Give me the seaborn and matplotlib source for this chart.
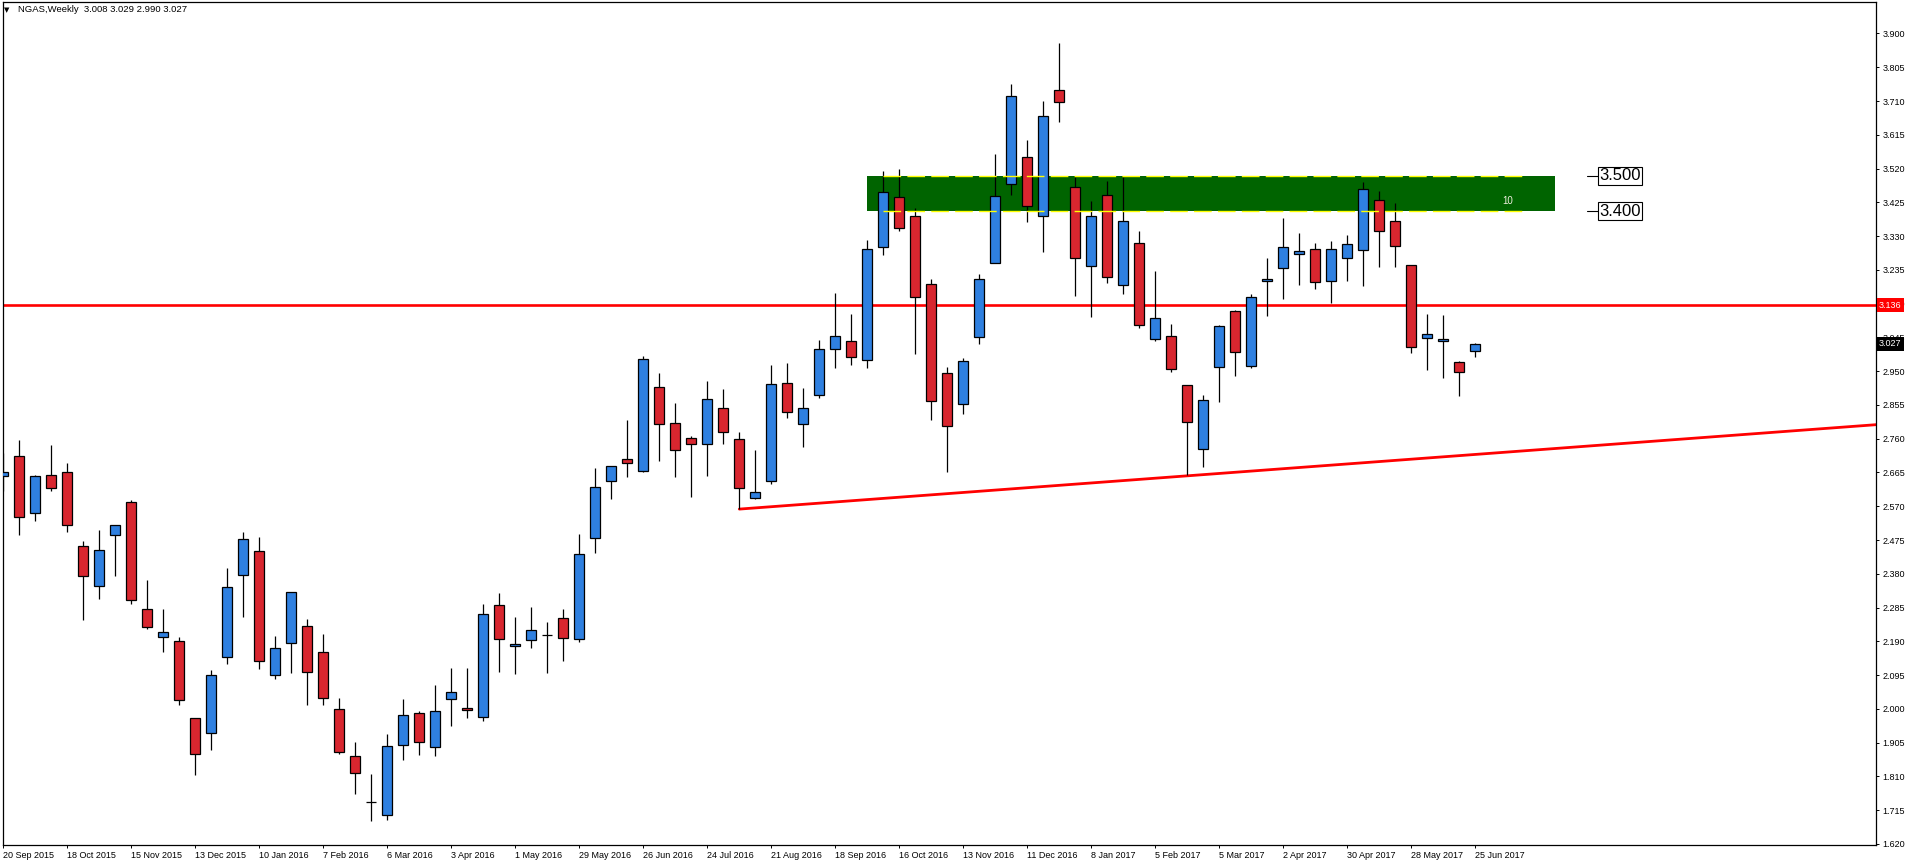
import matplotlib
matplotlib.use("Agg")
import matplotlib.pyplot as plt
import matplotlib.patches as patches
import matplotlib.transforms as mtransforms
import seaborn as sns
import pandas as pd

# weekly NGAS candles, 20 Sep 2015 .. 25 Jun 2017
opens = [2.656, 2.712, 2.550, 2.659, 2.665, 2.457, 2.345, 2.488, 2.583, 2.280,
         2.201, 2.190, 1.974, 1.932, 2.145, 2.376, 2.443, 2.095, 2.185, 2.232,
         2.159, 1.999, 1.867, 1.739, 1.702, 1.898, 1.988, 1.893, 2.027, 2.002,
         1.977, 2.291, 2.176, 2.193, 2.207, 2.255, 2.196, 2.480, 2.641, 2.704,
         2.670, 2.906, 2.805, 2.763, 2.746, 2.845, 2.760, 2.592, 2.640, 2.918,
         2.802, 2.884, 3.013, 3.036, 2.982, 3.300, 3.440, 3.387, 3.196, 2.946,
         2.859, 3.047, 3.255, 3.476, 3.552, 3.387, 3.740, 3.468, 3.246, 3.446,
         3.193, 3.311, 3.041, 3.050, 2.912, 2.732, 2.963, 3.120, 2.965, 3.204,
         3.241, 3.280, 3.294, 3.204, 3.269, 3.291, 3.432, 3.373, 3.249, 3.044,
         3.036, 2.977, 3.008]
highs = [2.719, 2.756, 2.658, 2.742, 2.691, 2.471, 2.503, 2.516, 2.587, 2.363,
         2.281, 2.202, 1.974, 2.110, 2.396, 2.497, 2.483, 2.205, 2.328, 2.253,
         2.211, 2.031, 1.908, 1.818, 1.930, 2.028, 1.994, 2.068, 2.115, 2.115,
         2.295, 2.326, 2.259, 2.287, 2.245, 2.281, 2.492, 2.677, 2.682, 2.812,
         2.994, 2.944, 2.860, 2.769, 2.921, 2.899, 2.780, 2.728, 2.966, 2.972,
         2.904, 3.037, 3.171, 3.112, 3.320, 3.514, 3.519, 3.409, 3.210, 2.963,
         2.988, 3.224, 3.562, 3.758, 3.601, 3.710, 3.873, 3.496, 3.429, 3.485,
         3.496, 3.343, 3.233, 3.084, 2.912, 2.884, 3.081, 3.123, 3.167, 3.267,
         3.382, 3.340, 3.312, 3.317, 3.334, 3.483, 3.458, 3.424, 3.249, 3.112,
         3.107, 2.979, 3.029]
lows = [2.613, 2.490, 2.529, 2.613, 2.498, 2.251, 2.310, 2.375, 2.296, 2.225,
        2.161, 2.010, 1.813, 1.883, 2.127, 2.259, 2.113, 2.083, 2.100, 2.010,
        2.012, 1.872, 1.760, 1.684, 1.687, 1.855, 1.869, 1.866, 1.953, 1.973,
        1.965, 2.105, 2.097, 2.172, 2.102, 2.136, 2.187, 2.439, 2.591, 2.653,
        2.667, 2.698, 2.653, 2.597, 2.656, 2.745, 2.562, 2.590, 2.634, 2.819,
        2.737, 2.875, 2.959, 2.967, 2.959, 3.276, 3.344, 2.998, 2.813, 2.667,
        2.830, 3.026, 3.255, 3.446, 3.369, 3.285, 3.650, 3.161, 3.102, 3.198,
        3.167, 3.071, 3.035, 2.948, 2.659, 2.681, 2.863, 2.936, 2.960, 3.105,
        3.153, 3.192, 3.181, 3.142, 3.203, 3.189, 3.242, 3.242, 3.001, 2.953,
        2.931, 2.880, 2.990]
closes = [2.665, 2.541, 2.656, 2.620, 2.516, 2.373, 2.446, 2.516, 2.305, 2.229,
          2.216, 2.025, 1.873, 2.095, 2.342, 2.477, 2.134, 2.171, 2.328, 2.103,
          2.030, 1.879, 1.820, 1.739, 1.895, 1.982, 1.907, 1.994, 2.047, 1.997,
          2.266, 2.196, 2.182, 2.221, 2.207, 2.199, 2.437, 2.623, 2.682, 2.693,
          2.985, 2.802, 2.727, 2.744, 2.873, 2.780, 2.620, 2.609, 2.915, 2.836,
          2.847, 3.013, 3.050, 2.991, 3.294, 3.454, 3.353, 3.159, 2.867, 2.797,
          2.979, 3.210, 3.443, 3.724, 3.415, 3.667, 3.707, 3.269, 3.387, 3.215,
          3.373, 3.081, 3.100, 2.957, 2.808, 2.870, 3.078, 3.005, 3.159, 3.210,
          3.300, 3.288, 3.201, 3.294, 3.308, 3.462, 3.344, 3.302, 3.019, 3.055,
          3.041, 2.949, 3.027]

date_labels = ["20 Sep 2015", "18 Oct 2015", "15 Nov 2015", "13 Dec 2015",
               "10 Jan 2016", "7 Feb 2016", "6 Mar 2016", "3 Apr 2016",
               "1 May 2016", "29 May 2016", "26 Jun 2016", "24 Jul 2016",
               "21 Aug 2016", "18 Sep 2016", "16 Oct 2016", "13 Nov 2016",
               "11 Dec 2016", "8 Jan 2017", "5 Feb 2017", "5 Mar 2017",
               "2 Apr 2017", "30 Apr 2017", "28 May 2017", "25 Jun 2017"]
date_every = 4

price_ticks = [1.620, 1.715, 1.810, 1.905, 2.000, 2.095, 2.190, 2.285, 2.380,
               2.475, 2.570, 2.665, 2.760, 2.855, 2.950, 3.045, 3.140, 3.235,
               3.330, 3.425, 3.520, 3.615, 3.710, 3.805, 3.900]

resistance = 3.136
zone_low, zone_high = 3.400, 3.500
zone_start, zone_end = 54, 97
trend_x = [46, 117.2]
trend_p = [2.562, 2.800]

df = pd.DataFrame({"open": opens, "high": highs, "low": lows, "close": closes})
df["bar"] = range(len(df))
df["up"] = df["close"] >= df["open"]

sns.set_theme(style="white")
plt.rcParams["font.family"] = ["Liberation Sans", "DejaVu Sans"]

W, H = 1916, 866
fig = plt.figure(figsize=(W / 100, H / 100), dpi=100)
ax = fig.add_axes([2.5 / W, 21 / H, (1876 - 2.5) / W, (845 - 1.5) / H])
ax.set_facecolor("white")

# zone box behind the candles
ax.add_patch(patches.Rectangle((zone_start, zone_low), zone_end - zone_start,
                               zone_high - zone_low, facecolor="#006400",
                               edgecolor="none", zorder=1))

ax.axhline(resistance, color="#ff0000", lw=1.9, zorder=2)
sns.lineplot(x=trend_x, y=trend_p, color="#ff0000", lw=2.0, ax=ax, zorder=2)

red, blue = "#d8262f", "#2f80e0"
ax.vlines(df["bar"], df["low"], df["high"], color="black", lw=0.9, zorder=3)
ax.bar(df["bar"], (df["close"] - df["open"]).abs(),
       bottom=df[["open", "close"]].min(axis=1), width=0.62,
       color=[blue if u else red for u in df["up"]],
       edgecolor="black", linewidth=0.9, zorder=4)

for lvl in (zone_low, zone_high):
    ax.hlines(lvl, 55, 95.3, color="#ffff00", lw=1.0,
              linestyles=(0, (12.7, 4.5)), zorder=5)

ax.text(93.7, 3.43, "10", color="#eeeedd", fontsize=7, ha="left", va="center",
        zorder=6)

for lvl, lab in ((zone_high, "3.500"), (zone_low, "3.400")):
    ax.plot([99.0, 99.7], [lvl, lvl], color="black", lw=0.8, clip_on=False)
    ax.text(99.72, lvl, lab, fontsize=12, ha="left", va="center",
            color="black", zorder=6,
            bbox=dict(boxstyle="square,pad=0.08", fc="white", ec="black", lw=0.8))

ax.set_xlim(-0.05, 117.04)
ax.set_ylim(1.617, 3.990)

ax.set_xticks(list(range(0, len(date_labels) * date_every, date_every)))
ax.set_xticklabels(date_labels, fontsize=6.5, ha="left")
ax.set_yticks(price_ticks)
ax.set_yticklabels([f"{t:.3f}" for t in price_ticks], fontsize=6.5)
ax.yaxis.tick_right()
ax.tick_params(axis="x", direction="out", length=2.5, width=0.7, pad=1.5,
               bottom=True, colors="black")
ax.tick_params(axis="y", direction="out", length=2.5, width=0.7, pad=2,
               right=True, left=False, colors="black")
for sp in ax.spines.values():
    sp.set_color("black")
    sp.set_linewidth(0.9)
ax.set_xlabel("")
ax.set_ylabel("")
ax.grid(False)

# price boxes on the right scale
blend = mtransforms.blended_transform_factory(ax.transAxes, ax.transData)
ax.text(1.0015, resistance, "3.136", transform=blend, fontsize=6.5,
        color="white", ha="left", va="center", zorder=10, clip_on=False,
        bbox=dict(boxstyle="square,pad=0.25", fc="#ff0000", ec="none"))
ax.text(1.0015, closes[-1], f"{closes[-1]:.3f}", transform=blend, fontsize=6.5,
        color="white", ha="left", va="center", zorder=10, clip_on=False,
        bbox=dict(boxstyle="square,pad=0.25", fc="black", ec="none"))

# header
fig.text(4 / W, 1 - 10 / H, "\u25bc", fontsize=5, va="center", ha="left",
         family="DejaVu Sans", color="black")
fig.text(18 / W, 1 - 10 / H, "NGAS,Weekly  3.008 3.029 2.990 3.027",
         fontsize=6.8, va="center", ha="left", color="black")

fig.savefig("out.png", dpi=100, facecolor="white")
